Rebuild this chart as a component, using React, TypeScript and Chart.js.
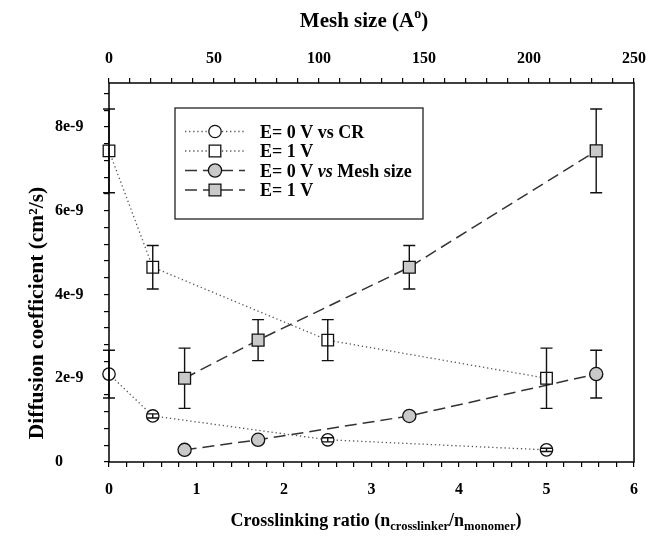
import React, { useEffect, useRef } from 'react';
import { Chart, registerables } from 'chart.js';

Chart.register(...registerables);

// Crosslinking ratio (bottom axis) and mesh size in Å (top axis)
const crosslinkRatio = [0, 0.5, 2.5, 5];
const meshSize = [36, 71, 143, 232];

// Diffusion coefficient (cm²/s)
const dE0vsCR = [2.1e-9, 1.1e-9, 0.53e-9, 0.29e-9];
const errE0vsCR = [0.57e-9, 0.05e-9, 0.05e-9, 0.04e-9];
const dE1vsCR = [7.43e-9, 4.65e-9, 2.91e-9, 2.0e-9];
const errE1vsCR = [1.0e-9, 0.52e-9, 0.49e-9, 0.72e-9];
const dE0vsMesh = [0.29e-9, 0.53e-9, 1.1e-9, 2.1e-9];
const errE0vsMesh = [0.04e-9, 0.05e-9, 0.05e-9, 0.57e-9];
const dE1vsMesh = [2.0e-9, 2.91e-9, 4.65e-9, 7.43e-9];
const errE1vsMesh = [0.72e-9, 0.49e-9, 0.52e-9, 1.0e-9];

// Tick labels
const crTicks = [0, 1, 2, 3, 4, 5, 6];
const crMinorCount = 30; // every 0.2
const meshTicks = [0, 50, 100, 150, 200, 250];
const meshMinorCount = 25; // every 10
const yTicks = [0, 2e-9, 4e-9, 6e-9, 8e-9];
const yTickLabels = ['0', '2e-9', '4e-9', '6e-9', '8e-9'];
const yMinorCount = 22; // every 0.4e-9

const legendRows = [
  [{ t: 'E= 0 V vs CR', i: false }],
  [{ t: 'E= 1 V', i: false }],
  [{ t: 'E= 0 V ', i: false }, { t: 'vs', i: true }, { t: ' Mesh size', i: false }],
  [{ t: 'E= 1 V', i: false }],
];

const FAMILY = '"Liberation Serif", "Times New Roman", serif';
const tickFont = { family: FAMILY, weight: 'bold' as const, size: 16 };

function near(a: number, b: number, eps: number) {
  return Math.abs(a - b) < eps;
}

const errorBarPlugin = {
  id: 'errorBars',
  beforeDatasetDraw(chart: any, args: any) {
    const ds = chart.data.datasets[args.index];
    if (ds.filledMarker) drawErrors(chart, args.index);
  },
  afterDatasetDraw(chart: any, args: any) {
    const ds = chart.data.datasets[args.index];
    if (!ds.filledMarker) drawErrors(chart, args.index);
  },
};

function drawErrors(chart: any, index: number) {
  const ds = chart.data.datasets[index];
  const xs = chart.scales[ds.xAxisID];
  const ys = chart.scales.y;
  const ctx = chart.ctx;
  ctx.save();
  ctx.strokeStyle = '#111';
  ctx.lineWidth = 1.4;
  ctx.setLineDash([]);
  ds.data.forEach((p: any, j: number) => {
    const e = ds.errors[j];
    const x = xs.getPixelForValue(p.x);
    const yt = ys.getPixelForValue(p.y + e);
    const yb = ys.getPixelForValue(p.y - e);
    const cap = 6;
    ctx.beginPath();
    ctx.moveTo(x, yt);
    ctx.lineTo(x, yb);
    ctx.moveTo(x - cap, yt);
    ctx.lineTo(x + cap, yt);
    ctx.moveTo(x - cap, yb);
    ctx.lineTo(x + cap, yb);
    ctx.stroke();
  });
  ctx.restore();
}

function drawRich(ctx: CanvasRenderingContext2D, segs: { t: string; size: number; dy: number; italic?: boolean }[], cx: number, baseline: number) {
  const fonts = segs.map((s) => `${s.italic ? 'italic ' : ''}bold ${s.size}px ${FAMILY}`);
  let total = 0;
  const widths = segs.map((s, k) => {
    ctx.font = fonts[k];
    const w = ctx.measureText(s.t).width;
    total += w;
    return w;
  });
  let x = cx - total / 2;
  ctx.textAlign = 'left';
  ctx.textBaseline = 'alphabetic';
  segs.forEach((s, k) => {
    ctx.font = fonts[k];
    ctx.fillText(s.t, x, baseline + s.dy);
    x += widths[k];
  });
}

const decorPlugin = {
  id: 'decor',
  afterDraw(chart: any) {
    const ctx: CanvasRenderingContext2D = chart.ctx;
    const a = chart.chartArea;
    ctx.save();
    // frame
    ctx.strokeStyle = '#000';
    ctx.lineWidth = 1.5;
    ctx.setLineDash([]);
    ctx.strokeRect(a.left, a.top, a.right - a.left, a.bottom - a.top);

    // axis titles
    ctx.fillStyle = '#000';
    drawRich(
      ctx,
      [
        { t: 'Mesh size (A', size: 21, dy: 0 },
        { t: 'o', size: 14, dy: -9 },
        { t: ')', size: 21, dy: 0 },
      ],
      364,
      27
    );
    drawRich(
      ctx,
      [
        { t: 'Crosslinking ratio (n', size: 18, dy: 0 },
        { t: 'crosslinker', size: 12.5, dy: 4 },
        { t: '/n', size: 18, dy: 0 },
        { t: 'monomer', size: 12.5, dy: 4 },
        { t: ')', size: 18, dy: 0 },
      ],
      376,
      526
    );
    ctx.save();
    ctx.translate(37, 313);
    ctx.rotate(-Math.PI / 2);
    ctx.font = `bold 21.5px ${FAMILY}`;
    ctx.textAlign = 'center';
    ctx.textBaseline = 'alphabetic';
    ctx.fillText('Diffusion coefficient (cm²/s)', 0, 6);
    ctx.restore();

    // legend
    const lx = 175, ly = 108, lw = 248, lh = 111;
    ctx.fillStyle = '#fff';
    ctx.fillRect(lx, ly, lw, lh);
    ctx.strokeStyle = '#222';
    ctx.lineWidth = 1.3;
    ctx.strokeRect(lx, ly, lw, lh);
    const rowY = [131.5, 151, 170.5, 190];
    chart.data.datasets.forEach((ds: any, k: number) => {
      const y = rowY[k];
      ctx.save();
      ctx.strokeStyle = ds.borderColor;
      ctx.lineWidth = ds.borderWidth;
      ctx.setLineDash(ds.borderDash);
      ctx.beginPath();
      ctx.moveTo(185, y);
      ctx.lineTo(245, y);
      ctx.stroke();
      ctx.setLineDash([]);
      ctx.fillStyle = ds.pointBackgroundColor;
      ctx.strokeStyle = ds.pointBorderColor;
      ctx.lineWidth = ds.pointBorderWidth;
      ctx.beginPath();
      if (ds.pointStyle === 'rect') {
        const s = ds.pointRadius * Math.SQRT1_2;
        ctx.rect(215 - s, y - s, 2 * s, 2 * s);
      } else {
        ctx.arc(215, y, ds.pointRadius, 0, Math.PI * 2);
      }
      ctx.fill();
      ctx.stroke();
      ctx.restore();
      // text
      ctx.fillStyle = '#000';
      let x = 260;
      ctx.textAlign = 'left';
      ctx.textBaseline = 'alphabetic';
      legendRows[k].forEach((seg) => {
        ctx.font = `${seg.i ? 'italic ' : ''}bold 18px ${FAMILY}`;
        ctx.fillText(seg.t, x, y + 6);
        x += ctx.measureText(seg.t).width;
      });
    });
    ctx.restore();
  },
};

export default function App() {
  const ref = useRef<HTMLCanvasElement>(null);

  useEffect(() => {
    const canvas = ref.current;
    if (!canvas) return;

    const dotted = { borderColor: '#555', borderWidth: 1.3, borderDash: [1.3, 2.8] };
    const dashed = { borderColor: '#333', borderWidth: 1.5, borderDash: [12, 6] };
    const openMarker = { pointBackgroundColor: '#fff', pointBorderColor: '#111', pointBorderWidth: 1.3 };
    const grayMarker = { pointBackgroundColor: '#c9c9c9', pointBorderColor: '#111', pointBorderWidth: 1.3 };

    const chart = new Chart(canvas, {
      type: 'scatter',
      data: {
        datasets: [
          {
            label: 'E= 0 V vs CR',
            data: crosslinkRatio.map((x, i) => ({ x, y: dE0vsCR[i] })),
            xAxisID: 'x',
            yAxisID: 'y',
            showLine: true,
            ...dotted,
            ...openMarker,
            pointStyle: 'circle',
            pointRadius: 6.2,
            errors: errE0vsCR,
            filledMarker: false,
            order: 0,
            clip: false,
          } as any,
          {
            label: 'E= 1 V',
            data: crosslinkRatio.map((x, i) => ({ x, y: dE1vsCR[i] })),
            xAxisID: 'x',
            yAxisID: 'y',
            showLine: true,
            ...dotted,
            ...openMarker,
            pointStyle: 'rect',
            pointRadius: 8.2,
            errors: errE1vsCR,
            filledMarker: false,
            order: 0,
            clip: false,
          } as any,
          {
            label: 'E= 0 V vs Mesh size',
            data: meshSize.map((x, i) => ({ x, y: dE0vsMesh[i] })),
            xAxisID: 'x2',
            yAxisID: 'y',
            showLine: true,
            ...dashed,
            ...grayMarker,
            pointStyle: 'circle',
            pointRadius: 6.6,
            errors: errE0vsMesh,
            filledMarker: true,
            order: 1,
            clip: false,
          } as any,
          {
            label: 'E= 1 V',
            data: meshSize.map((x, i) => ({ x, y: dE1vsMesh[i] })),
            xAxisID: 'x2',
            yAxisID: 'y',
            showLine: true,
            ...dashed,
            ...grayMarker,
            pointStyle: 'rect',
            pointRadius: 8.4,
            errors: errE1vsMesh,
            filledMarker: true,
            order: 1,
            clip: false,
          } as any,
        ],
      },
      options: {
        responsive: false,
        animation: false,
        events: [],
        layout: { padding: { left: 55, right: 23, top: 0, bottom: 0 } },
        plugins: { legend: { display: false }, tooltip: { enabled: false }, title: { display: false } },
        scales: {
          x: {
            type: 'linear',
            position: 'bottom',
            min: 0,
            max: 6,
            afterBuildTicks: (s: any) => {
              const t = [];
              for (let i = 0; i <= crMinorCount; i++) t.push({ value: (6 * i) / crMinorCount });
              s.ticks = t;
            },
            afterFit: (s: any) => {
              s.height = 79;
            },
            ticks: {
              autoSkip: false,
              maxRotation: 0,
              padding: 13,
              color: '#000',
              font: tickFont,
              callback: (v: any) => {
                const k = crTicks.findIndex((c) => near(c, Number(v), 1e-6));
                return k >= 0 ? String(crTicks[k]) : '';
              },
            },
            grid: { drawOnChartArea: false, drawTicks: true, tickLength: 5, color: '#000', lineWidth: 1.2 },
            border: { display: false },
          },
          x2: {
            type: 'linear',
            position: 'top',
            min: 0,
            max: 250,
            afterBuildTicks: (s: any) => {
              const t = [];
              for (let i = 0; i <= meshMinorCount; i++) t.push({ value: (250 * i) / meshMinorCount });
              s.ticks = t;
            },
            afterFit: (s: any) => {
              s.height = 83;
            },
            ticks: {
              autoSkip: false,
              maxRotation: 0,
              padding: 10,
              color: '#000',
              font: tickFont,
              callback: (v: any) => {
                const k = meshTicks.findIndex((c) => near(c, Number(v), 1e-6));
                return k >= 0 ? String(meshTicks[k]) : '';
              },
            },
            grid: { drawOnChartArea: false, drawTicks: true, tickLength: 5, color: '#000', lineWidth: 1.2 },
            border: { display: false },
          },
          y: {
            type: 'linear',
            position: 'left',
            min: 0,
            max: 9.05e-9,
            afterBuildTicks: (s: any) => {
              const t = [];
              for (let i = 0; i <= yMinorCount; i++) t.push({ value: (8.8e-9 * i) / yMinorCount });
              s.ticks = t;
            },
            afterFit: (s: any) => {
              s.width = 54;
            },
            ticks: {
              autoSkip: false,
              crossAlign: 'far',
              padding: 8,
              color: '#000',
              font: tickFont,
              callback: (v: any) => {
                const k = yTicks.findIndex((c) => near(c, Number(v), 1e-13));
                return k >= 0 ? yTickLabels[k] : '';
              },
            },
            grid: { drawOnChartArea: false, drawTicks: true, tickLength: 5, color: '#000', lineWidth: 1.2 },
            border: { display: false },
          },
        },
      } as any,
      plugins: [errorBarPlugin, decorPlugin],
    });

    return () => chart.destroy();
  }, []);

  return (
    <div style={{ position: 'absolute', left: 0, top: 0, width: 657, height: 541, background: '#fff' }}>
      <canvas ref={ref} width={657} height={541} style={{ display: 'block' }} />
    </div>
  );
}
